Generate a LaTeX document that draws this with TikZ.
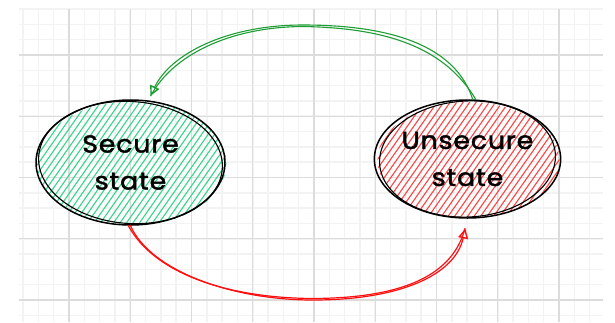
\documentclass[tikz,border=0pt]{standalone}
\usepackage{fontspec}
\setmainfont{Poppins}[FakeStretch=1.1, LetterSpace=3, FakeBold=1.6]
\usetikzlibrary{shapes.geometric,arrows.meta}
\definecolor{gridminor}{HTML}{F3F3F3}
\definecolor{gridmajor}{HTML}{DCDCDC}
\definecolor{hatchgreen}{HTML}{36D68A}
\definecolor{hatchred}{HTML}{FF4444}
\definecolor{arrowgreen}{HTML}{1E9E34}
\definecolor{arrowred}{HTML}{FF1010}
\begin{document}
\begin{tikzpicture}[x=1pt,y=-1pt,
  minorline/.style={gridminor, line width=1.6pt},
  majorline/.style={gridmajor, line width=1.2pt},
  hatchline/.style={line width=1.1pt},
  statebox/.style={ellipse, draw=black, line width=1.5pt, inner sep=0pt, align=center,
    font=\fontsize{24.5}{37}\selectfont, text=black},
  sketchline/.style={draw=black, line width=1.1pt},
  garrow/.style={arrowgreen, line width=1.1pt, line cap=round},
  rarrow/.style={arrowred, line width=1.2pt, line cap=round},
  tip/.style={-{Triangle[open, length=10pt, width=10pt, line width=1.4pt]}}
]
\useasboundingbox (0,0) rectangle (615,322);
\fill[white] (0,0) rectangle (615,322);
% grid
\foreach \i in {0,...,37} \draw[minorline] ({23.06+15.3125*\i},9) -- ({23.06+15.3125*\i},322);
\foreach \i in {0,...,20} \draw[minorline] (19,{9.06+15.3125*\i}) -- (603,{9.06+15.3125*\i});
\foreach \i in {0,...,8} \draw[majorline] ({69+61.25*\i},9) -- ({69+61.25*\i},322);
\foreach \i in {0,...,4} \draw[majorline] (19,{55+61.25*\i}) -- (603,{55+61.25*\i});
% hatching
\begin{scope}
  \clip (131.5,163.5) ellipse [x radius=95pt, y radius=62pt];
  \foreach \i in {-100,-93.5,...,260} \draw[hatchline, hatchgreen] (\i,240) -- ++(120,-171);
\end{scope}
\begin{scope}
  \clip (468.5,160) ellipse [x radius=91pt, y radius=58pt];
  \foreach \i in {240,246.5,...,600} \draw[hatchline, hatchred] (\i,235) -- ++(120,-171);
\end{scope}
% states
\node[statebox, minimum width=189pt, minimum height=125pt] (s) at (130.5,162.5) {Secure\\state};
\node[statebox, minimum width=181pt, minimum height=118pt] (u) at (467.5,159) {Unsecure\\state};
\draw[sketchline, rotate around={-4:(s.center)}] (s.center) ellipse [x radius=92pt, y radius=61pt];
\draw[sketchline, rotate around={3:(u.center)}] (u.center) ellipse [x radius=88pt, y radius=58pt];
% arrows
\draw[garrow, tip, shorten >=5pt] (u.85) .. controls (455,45) and (390,25) .. (303,25) .. controls (225,25) and (170,55) .. (s.74);
\draw[garrow, shorten >=5pt] (u.82) .. controls (446,50) and (392,28) .. (303,26.5) .. controls (228,27) and (172,56) .. (s.74);
\draw[rarrow, tip, shorten >=10pt] (s.-90) .. controls (150,270) and (230,300) .. (313,300) .. controls (400,300) and (455,275) .. (u.-90);
\draw[rarrow, shorten >=10pt] (s.-92) .. controls (156,276) and (232,298) .. (313,298.5) .. controls (398,298) and (452,278) .. (u.-90);
\end{tikzpicture}
\end{document}
